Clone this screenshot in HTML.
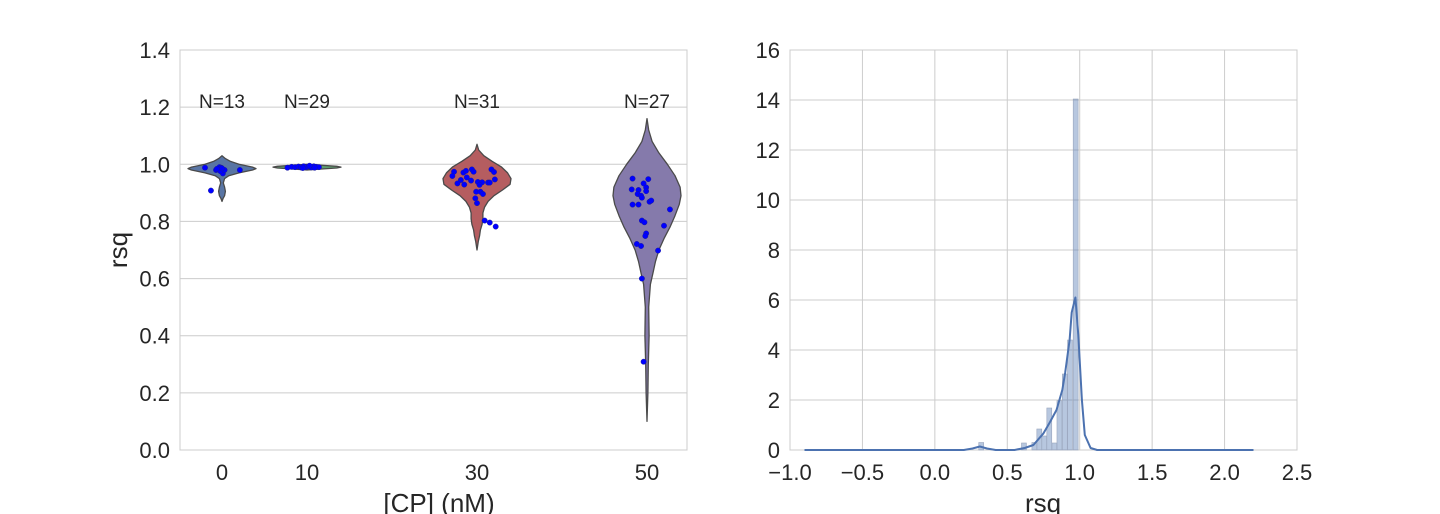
<!DOCTYPE html>
<html><head><meta charset="utf-8"><style>
html,body{margin:0;padding:0;background:#fff;}
svg{display:block;font-family:"Liberation Sans",Arial,sans-serif;}
</style></head><body>
<svg id="chart" width="1440" height="514"></svg>
<script>
// ---------- data ----------
const yTicksL = [0.0,0.2,0.4,0.6,0.8,1.0,1.2,1.4];
const groups = [0,10,30,50];
const groupCounts = ["N=13","N=29","N=31","N=27"];
const groupColors = ["#5975a4","#5f9e6e","#b55d60","#857aab"];
const violin0 = [[1.03,0],[1.02,0.4],[1.01,1.0],[1.0,2.0],[0.99,3.6],[0.985,4.0],[0.98,3.6],[0.97,2.0],[0.96,0.8],[0.95,0.3],[0.935,0.15],[0.92,0.3],[0.905,0.4],[0.89,0.3],[0.88,0.12],[0.87,0]];
const violin10 = [[1.0,0],[0.997,1.5],[0.993,3.5],[0.99,4.0],[0.987,3.5],[0.983,1.5],[0.98,0]];
const violin30 = [[1.07,0],[1.05,0.2],[1.03,0.8],[1.01,1.8],[0.99,2.9],[0.97,3.6],[0.95,4.0],[0.93,3.9],[0.91,3.0],[0.89,2.0],[0.87,1.3],[0.85,0.9],[0.83,0.7],[0.81,0.7],[0.79,0.6],[0.77,0.4],[0.75,0.3],[0.73,0.15],[0.70,0]];
const violin50 = [[1.16,0],[1.12,0.2],[1.08,0.6],[1.04,1.4],[1.0,2.4],[0.96,3.3],[0.92,3.9],[0.89,4.0],[0.86,3.8],[0.82,3.3],[0.78,2.7],[0.74,2.0],[0.70,1.4],[0.66,1.0],[0.62,0.7],[0.58,0.4],[0.5,0.2],[0.4,0.25],[0.3,0.15],[0.2,0.1],[0.1,0]];
const points0 = [[-2.0,0.988],[-0.7,0.980],[-0.5,0.982],[-0.3,0.990],[-0.1,0.988],[0.15,0.980],[0.1,0.968],[0.3,0.980],[-0.2,0.976],[2.1,0.980],[-1.3,0.908],[-0.6,0.984],[0.0,0.986]];
const points10 = [[-2.3,0.988],[-1.8,0.991],[-1.4,0.990],[-1.0,0.992],[-0.7,0.989],[-0.4,0.993],[-0.1,0.990],[0.2,0.992],[0.5,0.989],[0.8,0.993],[1.1,0.991],[1.4,0.990],[-0.5,0.987],[0.3,0.995],[0.9,0.988]];
const points30 = [[-2.7,0.974],[-2.9,0.959],[-1.6,0.971],[-1.3,0.977],[-0.6,0.982],[-0.4,0.974],[-1.2,0.954],[1.7,0.982],[2.0,0.973],[-1.9,0.945],[-2.3,0.933],[-1.5,0.929],[-0.7,0.943],[0.1,0.938],[0.6,0.937],[0.3,0.928],[1.3,0.936],[2.1,0.947],[1.5,0.936],[-0.1,0.904],[0.4,0.904],[0.7,0.896],[-0.2,0.881],[0.0,0.864],[0.9,0.803],[1.5,0.796],[2.2,0.782]];
const points50 = [[-1.7,0.95],[0.15,0.948],[-0.4,0.933],[-0.1,0.919],[-1.8,0.912],[-1.0,0.91],[-1.1,0.896],[-0.7,0.89],[-0.1,0.906],[-0.6,0.883],[0.3,0.869],[0.5,0.873],[-1.7,0.859],[-1.0,0.859],[2.7,0.842],[-0.6,0.803],[-0.3,0.797],[2.0,0.785],[-0.1,0.758],[-0.2,0.749],[-1.2,0.721],[-0.7,0.714],[1.3,0.698],[-0.6,0.60],[-0.4,0.309]];
const xTicksR = [-1.0,-0.5,0.0,0.5,1.0,1.5,2.0,2.5];
const yTicksR = [0,2,4,6,8,10,12,14,16];
const binCenters = [0.32,0.615,0.687,0.721,0.755,0.790,0.825,0.860,0.897,0.933,0.972];
const binCounts = [0.3,0.28,0.3,0.84,0.56,1.68,0.28,1.97,3.04,4.4,14.04];
const binWidth = 0.034;
const kdeX = [-0.9,0.2,0.26,0.31,0.36,0.42,0.55,0.62,0.68,0.75,0.79,0.84,0.88,0.90,0.93,0.945,0.97,0.99,1.015,1.035,1.075,1.12,2.2];
const kdeY = [0,0,0.06,0.14,0.06,0,0,0.08,0.2,0.67,1.07,1.6,2.4,3.1,4.4,5.5,6.1,4.6,2.0,0.6,0.08,0,0];

// ---------- helpers ----------
const svg = document.getElementById('chart');
const NS = 'http://www.w3.org/2000/svg';
function mk(tag, attrs, parent){const e=document.createElementNS(NS,tag);for(const k in attrs)e.setAttribute(k,attrs[k]);(parent||svg).appendChild(e);return e;}
function fmt(v,d){return v<0?'\u2212'+Math.abs(v).toFixed(d):v.toFixed(d);}

// ---------- left chart ----------
const L={x0:180,x1:687,y0:450,y1:50};
const lx = v => 222 + v*8.5;
const ly = v => L.y0 - (v/1.4)*(L.y0-L.y1);
const gL = mk('g',{});


yTicksL.forEach(t=>{
  const ln=mk('line',{x1:L.x0,x2:L.x1,y1:ly(t),y2:ly(t),stroke:'#cccccc','stroke-width':1},gL);
  
  
  const tx=mk('text',{x:L.x0-10,y:ly(t)+8,'text-anchor':'end','font-size':22,fill:'#262626'},gL);
  tx.textContent=t.toFixed(1);
  
  
});
const frL=mk('rect',{x:L.x0,y:L.y1,width:L.x1-L.x0,height:L.y0-L.y1,fill:'none',stroke:'#cccccc','stroke-width':1},gL);


const violins=[violin0,violin10,violin30,violin50];
const pts=[points0,points10,points30,points50];
groups.forEach((g,i)=>{
  const prof=violins[i];
  const right=prof.map(p=>[lx(g+p[1]),ly(p[0])]);
  const left=prof.slice().reverse().map(p=>[lx(g-p[1]),ly(p[0])]);
  const all=right.concat(left);
  const d='M'+all.map(p=>p[0].toFixed(1)+','+p[1].toFixed(1)).join(' L')+' Z';
  const v=mk('path',{d:d,fill:groupColors[i],stroke:'#4a4a4a','stroke-width':1.3,'stroke-linejoin':'round'},gL);
  
  
  pts[i].forEach(p=>{
    const c=mk('circle',{cx:lx(g+p[0]),cy:ly(p[1]),r:2.7,fill:'#0000ff',stroke:'#1a1a8a','stroke-width':0.4},gL);
    
    
  });
  const n=mk('text',{x:lx(g),y:108,'text-anchor':'middle','font-size':19,fill:'#262626'},gL);
  n.textContent=groupCounts[i];
  
  
  const xt=mk('text',{x:lx(g),y:480,'text-anchor':'middle','font-size':22,fill:'#262626'},gL);
  xt.textContent=String(g);
  
  
});
const xlL=mk('text',{x:439,y:512,'text-anchor':'middle','font-size':26,fill:'#262626'},gL);
xlL.textContent='[CP] (nM)';


const ylL=mk('text',{x:0,y:0,'text-anchor':'middle','font-size':26,fill:'#262626',transform:'translate(127,250) rotate(-90)'},gL);
ylL.textContent='rsq';



// ---------- right chart ----------
const R={x0:790,x1:1297,y0:450,y1:50};
const rx = v => R.x0 + (v+1)/3.5*(R.x1-R.x0);
const ry = v => R.y0 - v/16*(R.y0-R.y1);
const gR=mk('g',{});


yTicksR.forEach(t=>{
  const ln=mk('line',{x1:R.x0,x2:R.x1,y1:ry(t),y2:ry(t),stroke:'#cccccc','stroke-width':1},gR);
  
  
  const tx=mk('text',{x:R.x0-10,y:ry(t)+8,'text-anchor':'end','font-size':22,fill:'#262626'},gR);
  tx.textContent=String(t);
  
  
});
xTicksR.forEach(t=>{
  const ln=mk('line',{x1:rx(t),x2:rx(t),y1:R.y1,y2:R.y0,stroke:'#cccccc','stroke-width':1},gR);
  
  
  const tx=mk('text',{x:rx(t),y:480,'text-anchor':'middle','font-size':22,fill:'#262626'},gR);
  tx.textContent=fmt(t,1);
  
  
});
const frR=mk('rect',{x:R.x0,y:R.y1,width:R.x1-R.x0,height:R.y0-R.y1,fill:'none',stroke:'#cccccc','stroke-width':1},gR);


binCenters.forEach((c,i)=>{
  const x0=rx(c-binWidth/2), x1=rx(c+binWidth/2);
  const b=mk('rect',{x:x0,y:ry(binCounts[i]),width:x1-x0,height:ry(0)-ry(binCounts[i]),fill:'rgba(76,114,176,0.4)',stroke:'#9aa6bd','stroke-width':0.6},gR);
  
  
});
const kd='M'+kdeX.map((x,i)=>rx(x).toFixed(1)+','+ry(kdeY[i]).toFixed(1)).join(' L');
const kl=mk('path',{d:kd,fill:'none',stroke:'#4c72b0','stroke-width':2,'stroke-linejoin':'round'},gR);


const xlR=mk('text',{x:1043,y:512,'text-anchor':'middle','font-size':26,fill:'#262626'},gR);
xlR.textContent='rsq';


</script>
</body></html>
